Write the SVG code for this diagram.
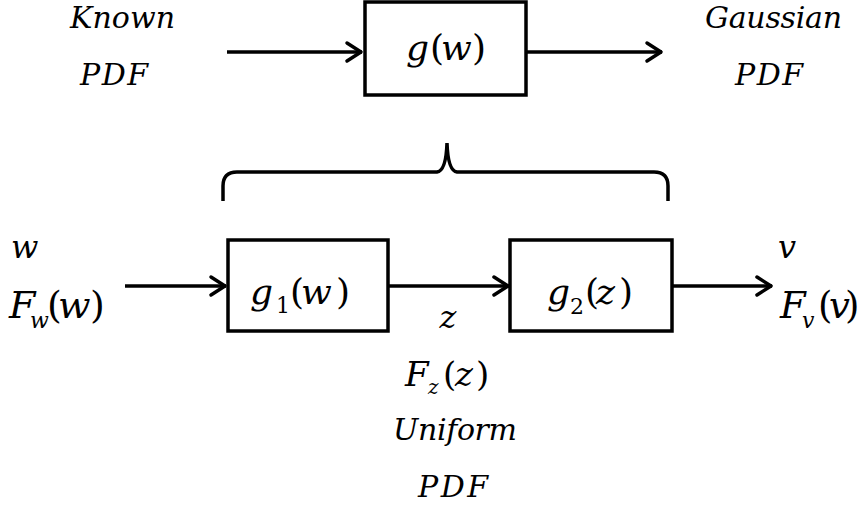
<svg xmlns="http://www.w3.org/2000/svg" width="861" height="508" viewBox="0 0 861 508">
<style>
.box{fill:#fff;stroke:#000;stroke-width:3.5}
.ln{fill:none;stroke:#000;stroke-width:3.5}
text{font-family:"DejaVu Serif","Liberation Serif",serif;fill:#000}
.w{font-style:italic;font-size:30px}
.i{font-style:italic}
</style>
<defs>
<marker id="ah" markerUnits="userSpaceOnUse" markerWidth="24" markerHeight="24" refX="20" refY="12" orient="auto" viewBox="0 0 24 24">
<path d="M5,3 L19,12 L5,21" fill="none" stroke="#000" stroke-width="3.5" stroke-linecap="round" stroke-linejoin="round"/>
</marker>
</defs>
<rect width="861" height="508" fill="#fff"/>

<g id="connectors">
<line class="ln" x1="227" y1="52" x2="362" y2="52" marker-end="url(#ah)"/>
<line class="ln" x1="527" y1="52" x2="662" y2="52" marker-end="url(#ah)"/>
<line class="ln" x1="125" y1="286" x2="226" y2="286" marker-end="url(#ah)"/>
<line class="ln" x1="388" y1="286" x2="509" y2="286" marker-end="url(#ah)"/>
<line class="ln" x1="672" y1="286" x2="772" y2="286" marker-end="url(#ah)"/>
</g>

<g id="brace">
<path class="ln" d="M223,201 L223,186 Q223,172 237,172 L437,172 Q446,171 447,143 Q448,171 457,172 L654,172 Q668,172 668,186 L668,201"/>
</g>

<g id="label-known">
<text class="w" x="70" y="28" textLength="105" lengthAdjust="spacing">Known</text>
<text class="w" x="80" y="85" textLength="68" lengthAdjust="spacing">PDF</text>
</g>

<g id="node-g">
<rect class="box" x="365" y="2" width="161" height="93"/>
<text font-size="36" y="60"><tspan class="i" x="406">g</tspan><tspan x="430">(</tspan><tspan class="i" x="441">w</tspan><tspan x="472">)</tspan></text>
</g>

<g id="label-gaussian">
<text class="w" x="705" y="28" textLength="137" lengthAdjust="spacing">Gaussian</text>
<text class="w" x="735" y="85" textLength="68" lengthAdjust="spacing">PDF</text>
</g>

<g id="label-w">
<text class="i" x="11" y="258" font-size="32">w</text>
<text font-size="38" y="318"><tspan class="i" x="9">F</tspan><tspan class="i" x="30" y="328" font-size="22">w</tspan><tspan x="47" y="318">(</tspan><tspan class="i" x="58" y="318">w</tspan><tspan x="90" y="318">)</tspan></text>
</g>

<g id="node-g1">
<rect class="box" x="228" y="240" width="160" height="91"/>
<text font-size="36" y="304"><tspan class="i" x="250">g</tspan><tspan x="276" y="313" font-size="22">1</tspan><tspan x="290" y="304">(</tspan><tspan class="i" x="301" y="304">w</tspan><tspan x="336" y="304">)</tspan></text>
</g>

<g id="node-g2">
<rect class="box" x="510" y="240" width="162" height="91"/>
<text font-size="36" y="304"><tspan class="i" x="547">g</tspan><tspan x="570" y="314" font-size="22">2</tspan><tspan x="585" y="304">(</tspan><tspan class="i" x="596" y="304">z</tspan><tspan x="619" y="304">)</tspan></text>
</g>

<g id="label-v">
<text class="i" x="778" y="258" font-size="32">v</text>
<text font-size="37" y="318"><tspan class="i" x="780">F</tspan><tspan class="i" x="802" y="328" font-size="22">v</tspan><tspan x="818" y="318">(</tspan><tspan class="i" x="829" y="318">v</tspan><tspan x="845" y="318">)</tspan></text>
</g>

<g id="label-z">
<text class="i" x="448" y="328" font-size="32" text-anchor="middle">z</text>
<text font-size="34" y="386"><tspan class="i" x="405">F</tspan><tspan class="i" x="428" y="394" font-size="20">z</tspan><tspan x="443" y="386">(</tspan><tspan class="i" x="455" y="386">z</tspan><tspan x="476" y="386">)</tspan></text>
<text class="w" x="393" y="440" textLength="124" lengthAdjust="spacing">Uniform</text>
<text class="w" x="418" y="497" textLength="70" lengthAdjust="spacing">PDF</text>
</g>
</svg>
